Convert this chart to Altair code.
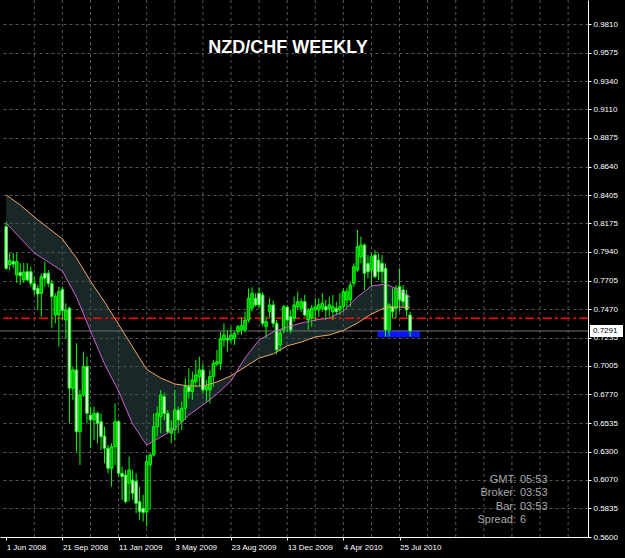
import json
import altair as alt
import pandas as pd

# ---------------- data ----------------
weeks = list(range(116))  # week 0 = 1 Jun 2008
opens = [0.8147, 0.7835, 0.7860, 0.7750, 0.7770, 0.7710, 0.7777, 0.7777, 0.7680, 0.7641,
         0.7600, 0.7764, 0.7764, 0.7682, 0.7422, 0.7422, 0.7632, 0.7381, 0.7477, 0.6821,
         0.6971, 0.6464, 0.6766, 0.6998, 0.6601, 0.6560, 0.6615, 0.6546, 0.6429, 0.6328,
         0.6164, 0.6341, 0.6546, 0.6123, 0.6109, 0.6041, 0.6068, 0.6055, 0.5890, 0.5836,
         0.5808, 0.6191, 0.6273, 0.6505, 0.6588, 0.6752, 0.6615, 0.6451, 0.6478, 0.6642,
         0.6546, 0.6656, 0.6834, 0.6793, 0.6875, 0.6916, 0.6971, 0.6807, 0.6807, 0.6916,
         0.7020, 0.7025, 0.7217, 0.7231, 0.7217, 0.7231, 0.7285, 0.7300, 0.7300, 0.7380,
         0.7480, 0.7559, 0.7600, 0.7586, 0.7326, 0.7449, 0.7504, 0.7354, 0.7176, 0.7299,
         0.7486, 0.7408, 0.7395, 0.7490, 0.7477, 0.7531, 0.7381, 0.7395, 0.7463, 0.7463,
         0.7477, 0.7490, 0.7477, 0.7449, 0.7477, 0.7463, 0.7490, 0.7545, 0.7545, 0.7682,
         0.7791, 0.7900, 0.7996, 0.7846, 0.7791, 0.7914, 0.7873, 0.7846, 0.7805, 0.7299,
         0.7490, 0.7477, 0.7654, 0.7627, 0.7586, 0.7422]
highs = [0.8188, 0.7930, 0.7930, 0.7930, 0.7848, 0.7848, 0.7848, 0.7818, 0.7736, 0.7668,
         0.7764, 0.7860, 0.7791, 0.7709, 0.7600, 0.7654, 0.7654, 0.7518, 0.7490, 0.6998,
         0.7190, 0.6807, 0.7121, 0.7080, 0.6670, 0.6670, 0.6629, 0.6615, 0.6505, 0.6355,
         0.6369, 0.6697, 0.6560, 0.6178, 0.6150, 0.6260, 0.6150, 0.6123, 0.6013, 0.5945,
         0.6273, 0.6287, 0.6615, 0.6670, 0.6807, 0.6779, 0.6642, 0.6560, 0.6807, 0.6670,
         0.6711, 0.6903, 0.6984, 0.6957, 0.7053, 0.7080, 0.7025, 0.6889, 0.6971, 0.7053,
         0.7135, 0.7285, 0.7354, 0.7299, 0.7326, 0.7285, 0.7340, 0.7400, 0.7450, 0.7640,
         0.7650, 0.7600, 0.7650, 0.7610, 0.7410, 0.7560, 0.7540, 0.7380, 0.7299, 0.7504,
         0.7504, 0.7463, 0.7572, 0.7613, 0.7559, 0.7586, 0.7477, 0.7504, 0.7559, 0.7559,
         0.7600, 0.7545, 0.7572, 0.7586, 0.7531, 0.7600, 0.7641, 0.7641, 0.7695, 0.7846,
         0.8120, 0.8065, 0.8010, 0.7914, 0.7928, 0.7955, 0.7928, 0.7914, 0.7846, 0.7518,
         0.7641, 0.7668, 0.7805, 0.7668, 0.7627, 0.7449]
lows = [0.7791, 0.7790, 0.7805, 0.7685, 0.7668, 0.7685, 0.7700, 0.7654, 0.7586, 0.7463,
        0.7408, 0.7654, 0.7654, 0.7313, 0.7354, 0.7162, 0.7381, 0.7231, 0.6533, 0.6725,
        0.6300, 0.6191, 0.6752, 0.6533, 0.6328, 0.6396, 0.6369, 0.6314, 0.6205, 0.6123,
        0.6013, 0.6191, 0.6096, 0.5904, 0.5877, 0.5890, 0.5904, 0.5795, 0.5740, 0.5727,
        0.5685, 0.5822, 0.6260, 0.6423, 0.6451, 0.6560, 0.6451, 0.6369, 0.6396, 0.6451,
        0.6478, 0.6560, 0.6738, 0.6725, 0.6834, 0.6834, 0.6779, 0.6711, 0.6697, 0.6834,
        0.6998, 0.6971, 0.7162, 0.7121, 0.7190, 0.7176, 0.7258, 0.7260, 0.7280, 0.7360,
        0.7450, 0.7490, 0.7480, 0.7330, 0.7230, 0.7400, 0.7320, 0.7100, 0.7121, 0.7272,
        0.7285, 0.7272, 0.7367, 0.7463, 0.7449, 0.7408, 0.7299, 0.7326, 0.7367, 0.7408,
        0.7449, 0.7381, 0.7408, 0.7381, 0.7422, 0.7422, 0.7449, 0.7477, 0.7490, 0.7654,
        0.7777, 0.7846, 0.7627, 0.7723, 0.7654, 0.7723, 0.7709, 0.7682, 0.7244, 0.7244,
        0.7395, 0.7395, 0.7449, 0.7490, 0.7408, 0.7244]
closes = [0.7805, 0.7870, 0.7840, 0.7860, 0.7745, 0.7775, 0.7710, 0.7682, 0.7627, 0.7594,
          0.7736, 0.7723, 0.7682, 0.7572, 0.7572, 0.7613, 0.7457, 0.7463, 0.6821, 0.6971,
          0.6464, 0.6766, 0.6998, 0.6615, 0.6560, 0.6615, 0.6533, 0.6423, 0.6328, 0.6164,
          0.6341, 0.6546, 0.6123, 0.6096, 0.5890, 0.6150, 0.5959, 0.5877, 0.5808, 0.5800,
          0.6220, 0.6273, 0.6505, 0.6615, 0.6766, 0.6615, 0.6464, 0.6492, 0.6642, 0.6560,
          0.6656, 0.6834, 0.6793, 0.6889, 0.6930, 0.6971, 0.6807, 0.6834, 0.6916, 0.7025,
          0.7039, 0.7231, 0.7258, 0.7217, 0.7258, 0.7272, 0.7326, 0.7335, 0.7380, 0.7560,
          0.7600, 0.7504, 0.7504, 0.7354, 0.7367, 0.7504, 0.7354, 0.7135, 0.7272, 0.7490,
          0.7381, 0.7299, 0.7504, 0.7531, 0.7531, 0.7422, 0.7463, 0.7477, 0.7490, 0.7504,
          0.7518, 0.7463, 0.7504, 0.7490, 0.7449, 0.7490, 0.7613, 0.7613, 0.7668, 0.7818,
          0.7982, 0.7996, 0.7764, 0.7777, 0.7900, 0.7736, 0.7777, 0.7777, 0.7299, 0.7504,
          0.7449, 0.7641, 0.7545, 0.7531, 0.7463, 0.7291]

ma_weeks = [0, 4, 8, 12, 16, 20, 24, 28, 32, 36, 40, 44, 48, 52, 56, 60, 64, 68, 72, 76,
            80, 84, 88, 92, 96, 100, 104, 108, 112, 115]
ma_slow = [0.8407, 0.8325, 0.8226, 0.8136, 0.8046, 0.7890, 0.7700, 0.7529, 0.7345, 0.7160,
           0.6975, 0.6905, 0.6856, 0.6839, 0.6839, 0.6872, 0.6922, 0.6995, 0.7069, 0.7102,
           0.7168, 0.7200, 0.7242, 0.7258, 0.7295, 0.7356, 0.7430, 0.7484, 0.7488, 0.7480]
ma_fast = [0.8177, 0.8054, 0.7931, 0.7857, 0.7783, 0.7570, 0.7291, 0.7020, 0.6798, 0.6528,
           0.6355, 0.6421, 0.6486, 0.6601, 0.6683, 0.6774, 0.6880, 0.7069, 0.7217, 0.7283,
           0.7324, 0.7356, 0.7381, 0.7397, 0.7455, 0.7570, 0.7660, 0.7676, 0.7627, 0.7570]

y_ticks = [0.9810, 0.9575, 0.9340, 0.9110, 0.8875, 0.8640, 0.8405, 0.8175, 0.7940, 0.7705,
           0.7470, 0.7235, 0.7005, 0.6770, 0.6535, 0.6300, 0.6070, 0.5835, 0.5600]
x_label_weeks = [0, 16, 32, 48, 64, 80, 96, 112]
x_labels = ["1 Jun 2008", "21 Sep 2008", "11 Jan 2009", "3 May 2009",
            "23 Aug 2009", "13 Dec 2009", "4 Apr 2010", "25 Jul 2010"]
grid_weeks = list(range(8, 165, 8))

bid_price = [0.7291]
level_price = [0.7395]
zone_weeks = [105.7, 117.8]
zone_prices = [0.7240, 0.7291]

title_text = "NZD/CHF WEEKLY"
info_labels = ["GMT:", "Broker:", "Bar:", "Spread:"]
info_values = ["05:53", "03:53", "03:53", "6"]

# ---------------- chart ----------------
FONT = "Liberation Sans"
xs = alt.Scale(domain=[-0.336, 164.23], nice=False, zero=False)
ys = alt.Scale(domain=[0.5600, 1.0007], nice=False, zero=False)

candles = pd.DataFrame({"week": weeks, "open": opens, "high": highs,
                        "low": lows, "close": closes})
ma = pd.DataFrame({"week": ma_weeks, "slow": ma_slow, "fast": ma_fast})

label_expr = json.dumps(x_labels) + "[round(datum.value / 16)]"

x_axis = alt.Axis(orient="bottom", values=x_label_weeks, labelExpr=label_expr,
                  labelAlign="left", labelColor="#ffffff", labelFont=FONT,
                  labelFontSize=8, labelPadding=3, tickSize=3, tickColor="#ffffff",
                  domainColor="#ffffff", grid=False, title=None, labelOverlap=False,
                  labelFlush=False)
y_axis = alt.Axis(orient="right", values=y_ticks, format=".4f", grid=True,
                  gridColor="#555555", gridDash=[3, 3], gridWidth=1,
                  domainColor="#ffffff", tickColor="#ffffff", tickSize=3,
                  labelColor="#ffffff", labelFont=FONT, labelFontSize=8,
                  labelPadding=2, title=None, labelOverlap=False, labelFlush=False)


def X(field):
    return alt.X(field, scale=xs, axis=x_axis)


def Y(field):
    return alt.Y(field, scale=ys, axis=y_axis)


band = alt.Chart(ma).mark_area(color="#2f4f4f", opacity=0.5).encode(
    x=X("week:Q"), y=Y("slow:Q"), y2="fast:Q")

vgrid = alt.Chart(pd.DataFrame({"week": grid_weeks})).mark_rule(
    color="#555555", strokeDash=[3, 3], strokeWidth=1
).encode(x=X("week:Q"))

zone = alt.Chart(pd.DataFrame({"w0": [zone_weeks[0]], "w1": [zone_weeks[1]],
                               "p0": [zone_prices[0]], "p1": [zone_prices[1]]})).mark_rect(
    color="#0a14ff").encode(x=X("w0:Q"), x2="w1:Q", y=Y("p0:Q"), y2="p1:Q")

bidline = alt.Chart(pd.DataFrame({"p": bid_price})).mark_rule(
    color="#707070", strokeWidth=1).encode(y=Y("p:Q"))

level = alt.Chart(pd.DataFrame({"p": level_price})).mark_rule(
    color="#ff0000", strokeWidth=1.6, strokeDash=[9, 3, 3, 3]).encode(y=Y("p:Q"))

wicks = alt.Chart(candles).mark_rule(color="#00ff00", strokeWidth=1).encode(
    x=X("week:Q"), y=Y("low:Q"), y2="high:Q")

bodies = alt.Chart(candles).mark_bar(size=2.6, stroke="#00ff00", strokeWidth=1).encode(
    x=X("week:Q"), y=Y("open:Q"), y2="close:Q",
    fill=alt.condition("datum.close >= datum.open", alt.value("#00b000"),
                       alt.value("#ffffff")))

slow_line = alt.Chart(ma).mark_line(color="#f4a460", strokeWidth=1).encode(
    x=X("week:Q"), y=Y("slow:Q"))
fast_line = alt.Chart(ma).mark_line(color="#d060d0", strokeWidth=1).encode(
    x=X("week:Q"), y=Y("fast:Q"))

tag_df = pd.DataFrame({"p": bid_price, "t": [f"{bid_price[0]:.4f}"]})
tag_rect = alt.Chart(tag_df).mark_rect(color="#ffffff", yOffset=-6, y2Offset=6).encode(
    x=alt.value(590), x2=alt.value(623), y=Y("p:Q"), y2="p:Q")
tag_text = alt.Chart(tag_df).mark_text(font=FONT, fontSize=8, color="#000000",
                                       align="left", baseline="middle").encode(
    x=alt.value(593), y=Y("p:Q"), text="t:N")

info_df = pd.DataFrame({"l": ["\n".join(info_labels)], "v": ["\n".join(info_values)]})
info_l = alt.Chart(info_df).mark_text(font=FONT, fontSize=11, color="#a8a8a8",
                                      align="right", baseline="top", lineBreak="\n",
                                      lineHeight=13.3).encode(
    x=alt.value(516), y=alt.value(474), text="l:N")
info_v = alt.Chart(info_df).mark_text(font=FONT, fontSize=11, color="#a8a8a8",
                                      align="left", baseline="top", lineBreak="\n",
                                      lineHeight=13.3).encode(
    x=alt.value(520), y=alt.value(474), text="v:N")

chart = alt.layer(
    band, vgrid, zone, bidline, level, wicks, bodies, slow_line, fast_line,
    tag_rect, tag_text, info_l, info_v
).properties(
    width=588, height=537,
    title=alt.TitleParams(title_text, anchor="middle", frame="group", offset=0,
                          dy=71, dx=-6, baseline="alphabetic", color="#ffffff",
                          font=FONT, fontSize=18, fontWeight="bold"),
    background="#000000",
    padding={"left": 0, "top": 0, "right": 37, "bottom": 21},
    autosize=alt.AutoSizeParams(type="none"),
).configure_view(strokeWidth=0)

chart.save("out.html", embed_options={"renderer": "svg", "actions": False})
